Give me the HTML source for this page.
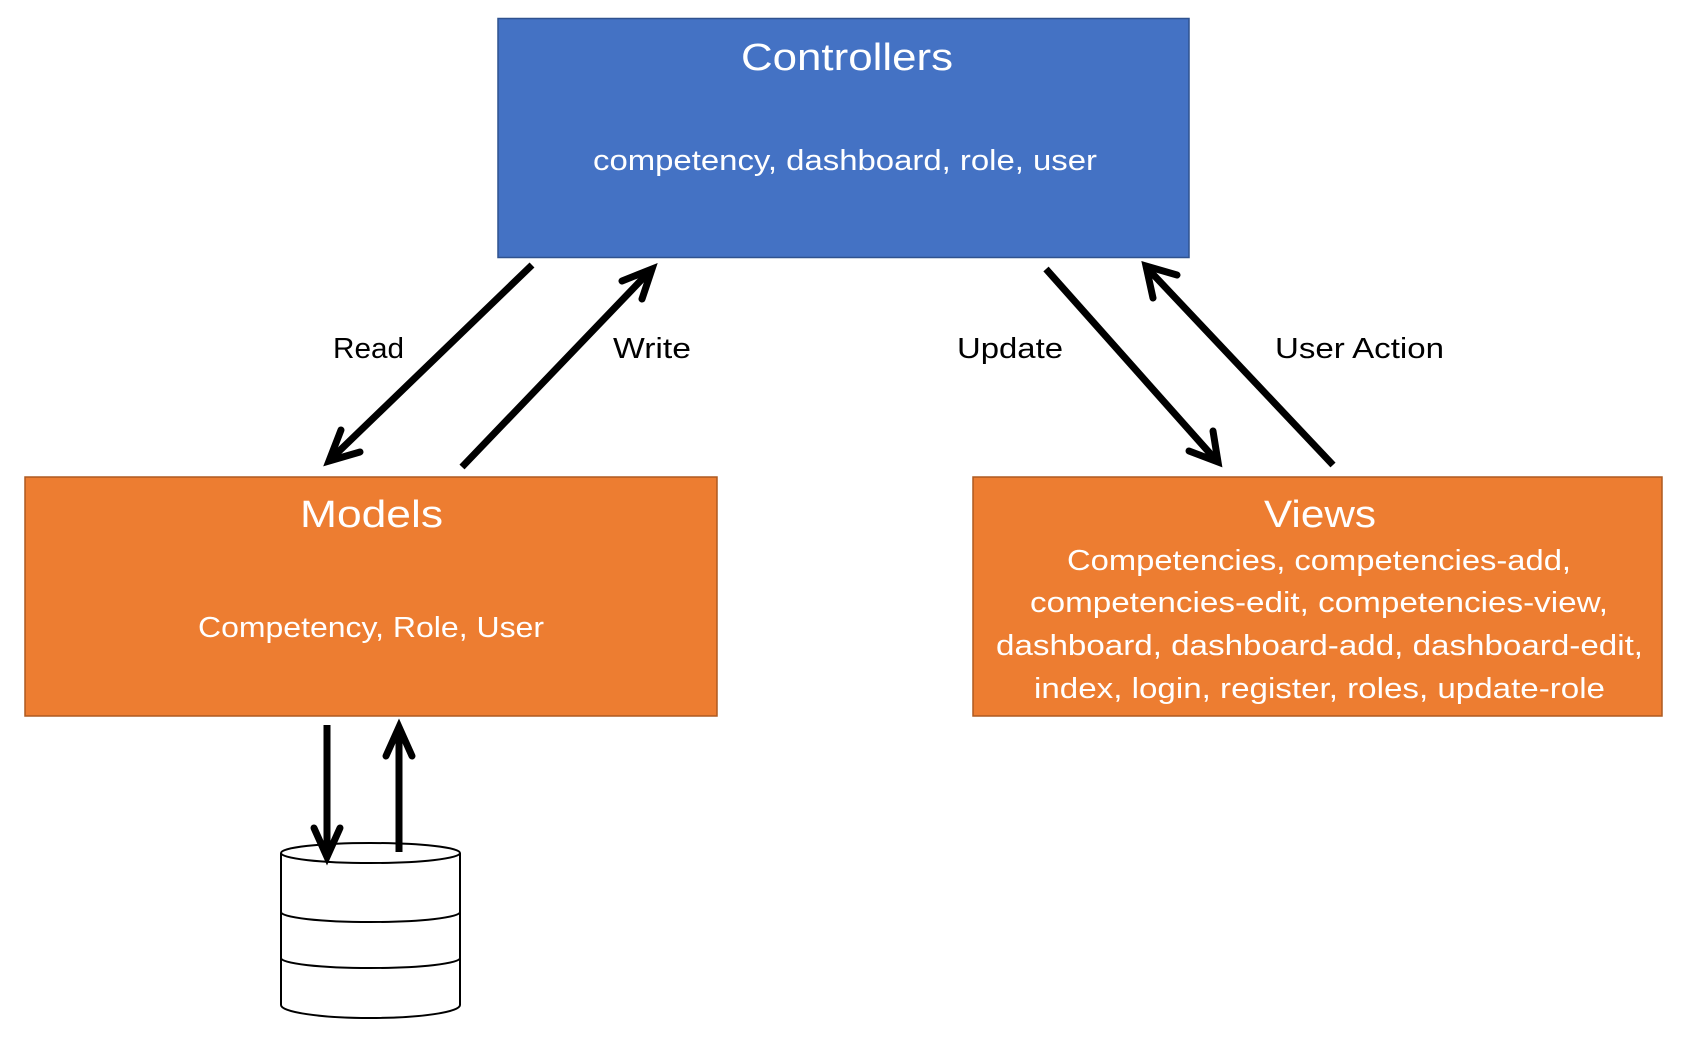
<!DOCTYPE html>
<html><head><meta charset="utf-8"><style>html,body{margin:0;padding:0;background:#fff}svg{display:block}</style></head>
<body>
<svg width="1688" height="1052" viewBox="0 0 1688 1052" xmlns="http://www.w3.org/2000/svg" font-family="Liberation Sans, sans-serif">
<rect x="498" y="18.5" width="691" height="239" fill="#4472C4" stroke="#2F528F" stroke-width="1.5"/>
<rect x="25" y="477" width="692" height="239" fill="#ED7D31" stroke="#AE5A21" stroke-width="1.5"/>
<rect x="973" y="477" width="689" height="239" fill="#ED7D31" stroke="#AE5A21" stroke-width="1.5"/>
<g fill="#fff" text-anchor="start">
<text x="741" y="70" font-size="38" textLength="212" lengthAdjust="spacingAndGlyphs">Controllers</text>
<text x="593" y="170" font-size="29" textLength="504" lengthAdjust="spacingAndGlyphs">competency, dashboard, role, user</text>
<text x="300" y="527" font-size="38" textLength="143" lengthAdjust="spacingAndGlyphs">Models</text>
<text x="198" y="637" font-size="29" textLength="346" lengthAdjust="spacingAndGlyphs">Competency, Role, User</text>
<text x="1264" y="527" font-size="38" textLength="112" lengthAdjust="spacingAndGlyphs">Views</text>
<text x="1067" y="570" font-size="29" textLength="504" lengthAdjust="spacingAndGlyphs">Competencies, competencies-add,</text>
<text x="1030" y="612" font-size="29" textLength="578" lengthAdjust="spacingAndGlyphs">competencies-edit, competencies-view,</text>
<text x="996" y="655" font-size="29" textLength="647" lengthAdjust="spacingAndGlyphs">dashboard, dashboard-add, dashboard-edit,</text>
<text x="1034" y="698" font-size="29" textLength="571" lengthAdjust="spacingAndGlyphs">index, login, register, roles, update-role</text>
</g>
<g fill="#000" font-size="29">
<text x="333" y="358" textLength="71" lengthAdjust="spacingAndGlyphs">Read</text>
<text x="613" y="358" textLength="78" lengthAdjust="spacingAndGlyphs">Write</text>
<text x="957" y="358" textLength="106" lengthAdjust="spacingAndGlyphs">Update</text>
<text x="1275" y="358" textLength="169" lengthAdjust="spacingAndGlyphs">User Action</text>
</g>
<g stroke="#000" stroke-width="7" fill="none" stroke-linecap="butt" stroke-linejoin="miter">
<line x1="532" y1="265" x2="332" y2="458"/>
<polyline points="341,430 329,461 360,452" stroke-linecap="round"/>
<line x1="462" y1="467" x2="649" y2="272"/>
<polyline points="622,281 652,269 642,299" stroke-linecap="round"/>
<line x1="1046" y1="269" x2="1215" y2="459"/>
<polyline points="1189,451 1218,462 1213,431" stroke-linecap="round"/>
<line x1="1333" y1="465" x2="1149" y2="270"/>
<polyline points="1153,298 1146,266 1177,275" stroke-linecap="round"/>
<line x1="327" y1="725" x2="327" y2="856"/>
<polyline points="314,828 327,857 340,828" stroke-linecap="round"/>
<line x1="399" y1="852" x2="399" y2="730"/>
<polyline points="386,756 399,727 412,756" stroke-linecap="round"/>
</g>
<g stroke="#000" stroke-width="2" fill="none">
<path d="M281,853 L281,1005 A89.5,13 0 0 0 460,1005 L460,853"/>
<ellipse cx="370.5" cy="853" rx="89.5" ry="10"/>
<path d="M281,912 A89.5,10 0 0 0 460,912"/>
<path d="M281,958 A89.5,10 0 0 0 460,958"/>
</g>
</svg>
</body></html>
